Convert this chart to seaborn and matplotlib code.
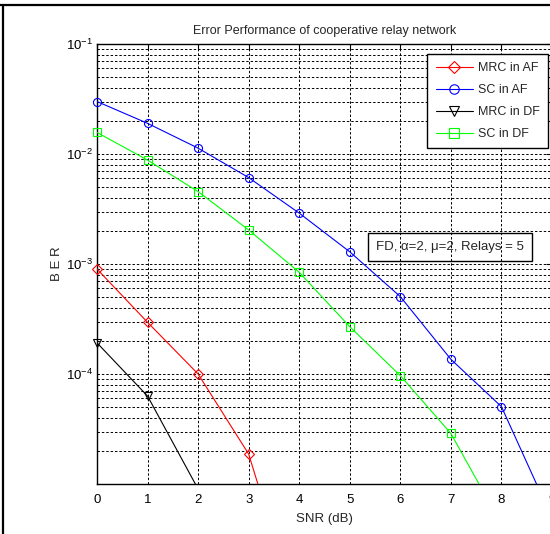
import numpy as np
import pandas as pd
import matplotlib
matplotlib.use("Agg")
import matplotlib.pyplot as plt
import seaborn as sns
from matplotlib.lines import Line2D
from matplotlib.ticker import FixedLocator, FixedFormatter

# ---- data ----
snr_af_mrc = [0, 1, 2, 3, 4]
ber_af_mrc = [9.0e-4, 2.95e-4, 1.0e-4, 1.87e-5, 6.0e-7]

snr_af_sc = [0, 1, 2, 3, 4, 5, 6, 7, 8, 9]
ber_af_sc = [3.0e-2, 1.9e-2, 1.13e-2, 6.1e-3, 2.9e-3, 1.29e-3, 5.05e-4, 1.36e-4, 5.05e-5, 4.9e-6]

snr_df_mrc = [0, 1, 2]
ber_df_mrc = [1.92e-4, 6.3e-5, 9.0e-6]

snr_df_sc = [0, 1, 2, 3, 4, 5, 6, 7, 8]
ber_df_sc = [1.57e-2, 8.8e-3, 4.55e-3, 2.04e-3, 8.4e-4, 2.69e-4, 9.66e-5, 2.88e-5, 4.3e-6]

series_names = ["MRC in AF", "SC in AF", "MRC in DF", "SC in DF"]
xticks = list(range(0, 10))
yticks = [1e-1, 1e-2, 1e-3, 1e-4]
ytick_labels = ["$\\mathdefault{10^{-1}}$", "$\\mathdefault{10^{-2}}$",
                "$\\mathdefault{10^{-3}}$", "$\\mathdefault{10^{-4}}$"]

title = "Error Performance of cooperative relay network"
xlabel = "SNR (dB)"
ylabel = "B E R"
note = "FD, α=2, μ=2, Relays = 5"

# ---- style ----
sns.set_style("white")
plt.rcParams["font.family"] = ["Liberation Sans", "DejaVu Sans"]
plt.rcParams["mathtext.fontset"] = "custom"
plt.rcParams["mathtext.rm"] = "Liberation Sans"
plt.rcParams["mathtext.it"] = "Liberation Sans:italic"
plt.rcParams["mathtext.sf"] = "Liberation Sans"
FS_TICK = 9.5
FS = 9

fig = plt.figure(figsize=(5.5, 5.34), dpi=100)
ax = fig.add_axes([97/550, 50/534, 455/550, 440/534])

data = [
    (snr_af_mrc, ber_af_mrc, "red", "D", 5.2),
    (snr_af_sc, ber_af_sc, "blue", "o", 5.8),
    (snr_df_mrc, ber_df_mrc, "black", "v", 6.2),
    (snr_df_sc, ber_df_sc, "#00ff00", "s", 5.8),
]

ax.set_yscale("log")
ymin, ymax = 1e-5, 1e-1
handles = []
for (xs, ys, col, mk, ms), name in zip(data, series_names):
    df = pd.DataFrame({"snr": xs, "ber": ys})
    # line (clipped at the axes)
    sns.lineplot(data=df, x="snr", y="ber", ax=ax, color=col,
                 linewidth=0.8, zorder=3)
    # markers (not clipped at the frame, like MATLAB), only points inside range
    dfin = df[(df["ber"] >= ymin) & (df["ber"] <= ymax)]
    sns.lineplot(data=dfin, x="snr", y="ber", ax=ax, color=col, marker=mk,
                 linestyle="none", markersize=ms, markerfacecolor="none",
                 markeredgecolor=col, markeredgewidth=0.8, zorder=4,
                 clip_on=False)
    handles.append(Line2D([], [], color=col, marker=mk, markersize=ms + 1,
                          markerfacecolor="none", markeredgecolor=col,
                          markeredgewidth=0.8, linewidth=0.8, label=name))

ax.set_xlim(0, 9)
ax.set_ylim(ymin, ymax)
ax.set_xticks(xticks)
ax.set_xticklabels([str(t) for t in xticks], fontsize=FS_TICK)
ax.yaxis.set_major_locator(FixedLocator(yticks))
ax.yaxis.set_major_formatter(FixedFormatter(ytick_labels))
ax.tick_params(axis="both", which="both", direction="in", top=True, right=True,
               labelsize=FS_TICK, length=4, width=0.8, colors="black")
ax.tick_params(axis="y", which="minor", length=2)
ax.tick_params(axis="x", pad=7)
ax.tick_params(axis="y", pad=3)

gls = (0, (2.5, 2.0))
ax.grid(True, which="major", axis="both", color="black", linestyle=gls, linewidth=0.7)
ax.grid(True, which="minor", axis="y", color="black", linestyle=gls, linewidth=0.7)
ax.set_axisbelow(True)

for sp in ax.spines.values():
    sp.set_color("black")
    sp.set_linewidth(1.0)

ax.set_title(title, fontsize=FS, pad=7)
ax.set_xlabel(xlabel, fontsize=FS_TICK, labelpad=5)
ax.set_ylabel(ylabel, fontsize=FS_TICK, labelpad=2)

leg = ax.legend(handles=handles, loc="upper right",
                bbox_to_anchor=(548/550, 1 - 54/534), bbox_transform=fig.transFigure,
                fontsize=FS, frameon=True, fancybox=False, framealpha=1,
                edgecolor="black", handlelength=3.0, borderpad=0.65,
                labelspacing=0.8, handletextpad=0.4, borderaxespad=0)
leg.get_frame().set_linewidth(1.0)
leg.set_zorder(5)

fig.text(450/550, 1 - 247/534, note, fontsize=FS_TICK, ha="center", va="center",
         bbox=dict(boxstyle="square,pad=0.6", facecolor="none", edgecolor="black",
                   linewidth=1.0), zorder=6)

# page border lines from the source document
fig.add_artist(Line2D([0, 1], [1 - 5/534, 1 - 5/534], transform=fig.transFigure,
                      color="black", linewidth=1.6))
fig.add_artist(Line2D([3/550, 3/550], [0, 1 - 5/534], transform=fig.transFigure,
                      color="black", linewidth=1.6))

fig.savefig("out.png", dpi=100)
